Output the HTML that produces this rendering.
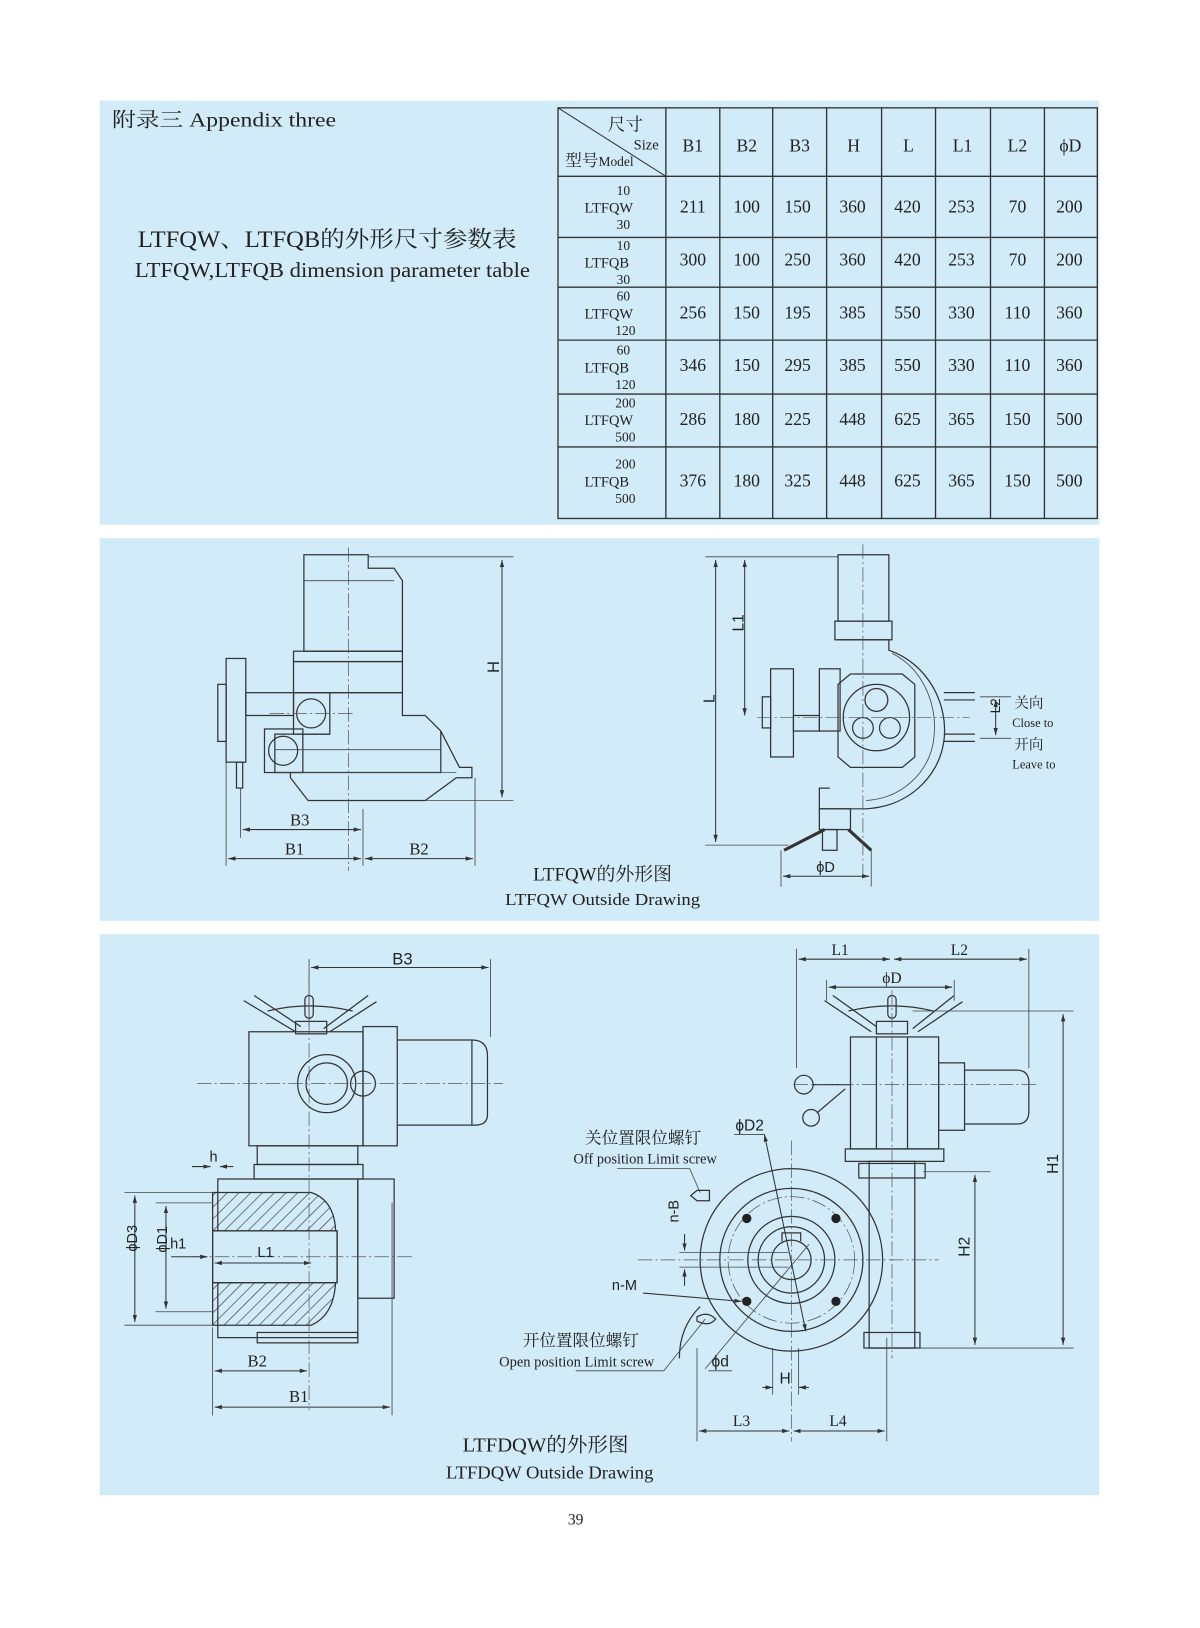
<!DOCTYPE html>
<html><head><meta charset="utf-8"><style>
html,body{margin:0;padding:0;background:#fff;}
svg{display:block;}
text{font-family:"Liberation Serif","Noto Serif CJK SC",serif;fill:#222;}
.s{font-family:"Liberation Sans","Noto Sans CJK SC",sans-serif;}
.l{fill:none;stroke:#333;stroke-width:1.2;}
.t{fill:none;stroke:#444;stroke-width:0.8;}
.c{fill:none;stroke:#555;stroke-width:0.7;stroke-dasharray:14 3 2 3;}
.g{stroke:#333;stroke-width:1;}
</style></head><body>
<svg width="1200" height="1628" viewBox="0 0 1157 1570" preserveAspectRatio="none" xmlns="http://www.w3.org/2000/svg">
<defs>
<marker id="a" viewBox="0 0 10 10" refX="10" refY="5" markerWidth="7" markerHeight="7" orient="auto-start-reverse"><path d="M0,2 L10,5 L0,8 z" fill="#333"/></marker>
<pattern id="h" width="8" height="8" patternUnits="userSpaceOnUse" patternTransform="rotate(45)"><line x1="0" y1="0" x2="0" y2="8" stroke="#333" stroke-width="1.2"/></pattern>
</defs>
<rect width="1157" height="1570" fill="#fff"/>
<rect x="96" y="97" width="964" height="409" fill="#d2ebf8"/>
<rect x="96" y="519" width="964" height="369" fill="#d2ebf8"/>
<rect x="96" y="901" width="964" height="541" fill="#d2ebf8"/>

<text x="108" y="122" font-size="19" textLength="216" lengthAdjust="spacingAndGlyphs">附录三  Appendix three</text>
<text x="133" y="238" font-size="22" textLength="365" lengthAdjust="spacingAndGlyphs">LTFQW、LTFQB的外形尺寸参数表</text>
<text x="130" y="267" font-size="20" textLength="381" lengthAdjust="spacingAndGlyphs">LTFQW,LTFQB dimension parameter table</text>

<g stroke="#333" stroke-width="1.3" fill="none">
<rect x="538" y="104" width="520" height="396"/>
<line x1="642" y1="104" x2="642" y2="500"/><line x1="694" y1="104" x2="694" y2="500"/>
<line x1="745" y1="104" x2="745" y2="500"/><line x1="797" y1="104" x2="797" y2="500"/>
<line x1="850" y1="104" x2="850" y2="500"/><line x1="902" y1="104" x2="902" y2="500"/>
<line x1="955" y1="104" x2="955" y2="500"/><line x1="1007" y1="104" x2="1007" y2="500"/>
<line x1="538" y1="170" x2="1058" y2="170"/><line x1="538" y1="229" x2="1058" y2="229"/>
<line x1="538" y1="277" x2="1058" y2="277"/><line x1="538" y1="328" x2="1058" y2="328"/>
<line x1="538" y1="380" x2="1058" y2="380"/><line x1="538" y1="431" x2="1058" y2="431"/>
<line x1="538" y1="104" x2="642" y2="170" stroke-width="1"/>
</g>
<g font-size="17" text-anchor="middle">
<text x="603" y="126">尺寸</text><text x="623" y="144" font-size="14">Size</text>
<text x="578" y="160" font-size="16">型号<tspan font-size="13">Model</tspan></text>
<text x="668" y="146">B1</text><text x="720" y="146">B2</text><text x="771" y="146">B3</text><text x="823" y="146">H</text><text x="876" y="146">L</text><text x="928" y="146">L1</text><text x="981" y="146">L2</text><text x="1032" y="146">ϕD</text>
</g>
<g font-size="13" text-anchor="middle">
<text x="601" y="188">10</text><text x="587" y="205" font-size="14">LTFQW</text><text x="601" y="221">30</text>
<text x="601" y="241">10</text><text x="585" y="258" font-size="14">LTFQB</text><text x="601" y="274">30</text>
<text x="601" y="290">60</text><text x="587" y="307" font-size="14">LTFQW</text><text x="603" y="323">120</text>
<text x="601" y="342">60</text><text x="585" y="359" font-size="14">LTFQB</text><text x="603" y="375">120</text>
<text x="603" y="393">200</text><text x="587" y="410" font-size="14">LTFQW</text><text x="603" y="426">500</text>
<text x="603" y="452">200</text><text x="585" y="469" font-size="14">LTFQB</text><text x="603" y="485">500</text>
</g>
<g font-size="17" text-anchor="middle">
<g transform="translate(0,205)"><text x="668">211</text><text x="720">100</text><text x="769">150</text><text x="822">360</text><text x="875">420</text><text x="927">253</text><text x="981">70</text><text x="1031">200</text></g>
<g transform="translate(0,256)"><text x="668">300</text><text x="720">100</text><text x="769">250</text><text x="822">360</text><text x="875">420</text><text x="927">253</text><text x="981">70</text><text x="1031">200</text></g>
<g transform="translate(0,307)"><text x="668">256</text><text x="720">150</text><text x="769">195</text><text x="822">385</text><text x="875">550</text><text x="927">330</text><text x="981">110</text><text x="1031">360</text></g>
<g transform="translate(0,358)"><text x="668">346</text><text x="720">150</text><text x="769">295</text><text x="822">385</text><text x="875">550</text><text x="927">330</text><text x="981">110</text><text x="1031">360</text></g>
<g transform="translate(0,410)"><text x="668">286</text><text x="720">180</text><text x="769">225</text><text x="822">448</text><text x="875">625</text><text x="927">365</text><text x="981">150</text><text x="1031">500</text></g>
<g transform="translate(0,469)"><text x="668">376</text><text x="720">180</text><text x="769">325</text><text x="822">448</text><text x="875">625</text><text x="927">365</text><text x="981">150</text><text x="1031">500</text></g>
</g>

<!-- Panel 2 left -->
<g class="l">
<path d="M293,535 H355 V548 L380,548 L388,560 V628 H293 Z"/>
<line x1="293" y1="560" x2="380" y2="560" class="t"/>
<rect x="283" y="628" width="105" height="10"/>
<rect x="283" y="638" width="105" height="30"/>
<rect x="218" y="635" width="19" height="100"/>
<rect x="210" y="660" width="8" height="55"/>
<rect x="237" y="668" width="46" height="22"/>
<rect x="283" y="668" width="35" height="40"/>
<circle cx="300" cy="688" r="14"/>
<path d="M318,668 H388 V690 L410,690 L425,705 V745 H265 V708 H318"/>
<rect x="255" y="703" width="37" height="42"/>
<circle cx="273" cy="724" r="14"/>
<line x1="265" y1="723" x2="425" y2="723" class="t"/>
<path d="M425,705 L443,740 L455,740 V750 L440,750 L410,772 H297 L280,750 V745"/>
<rect x="228" y="735" width="6" height="25"/>
<line x1="265" y1="745" x2="440" y2="745" class="t"/>
</g>
<line x1="336" y1="528" x2="336" y2="840" class="c"/>
<line x1="260" y1="688" x2="340" y2="688" class="c"/>
<line x1="355" y1="537" x2="495" y2="537" class="t"/>
<line x1="410" y1="772" x2="495" y2="772" class="t"/>
<line x1="484" y1="540" x2="484" y2="769" class="g" marker-start="url(#a)" marker-end="url(#a)"/>
<text x="480" y="656" class="s" font-size="16" transform="rotate(-90 477 652)">H</text>
<line x1="218" y1="735" x2="218" y2="835" class="t"/>
<line x1="232" y1="760" x2="232" y2="808" class="t"/>
<line x1="350" y1="780" x2="350" y2="835" class="t"/>
<line x1="458" y1="750" x2="458" y2="835" class="t"/>
<line x1="234" y1="800" x2="348" y2="800" class="g" marker-start="url(#a)" marker-end="url(#a)"/>
<line x1="220" y1="828" x2="348" y2="828" class="g" marker-start="url(#a)" marker-end="url(#a)"/>
<line x1="352" y1="828" x2="456" y2="828" class="g" marker-start="url(#a)" marker-end="url(#a)"/>
<g class="s" font-size="16" text-anchor="middle"><text x="289" y="796">B3</text><text x="284" y="824">B1</text><text x="404" y="824">B2</text></g>
<text x="514" y="849" font-size="18" textLength="134" lengthAdjust="spacingAndGlyphs">LTFQW的外形图</text>
<text x="487" y="873" font-size="16" textLength="188" lengthAdjust="spacingAndGlyphs">LTFQW Outside Drawing</text>

<!-- Panel 2 right -->
<g class="l">
<rect x="808" y="535" width="49" height="64"/>
<rect x="805" y="599" width="55" height="18"/>
<path d="M808,617 H857 V627 C895,640 915,680 910,715 C905,750 875,778 835,780 H790 V760 H800"/>
<path d="M860,630 C890,645 905,680 900,715 C895,745 870,770 835,772" class="t"/>
<rect x="790" y="645" width="20" height="60"/>
<path d="M808,660 L820,650 H870 L882,660 V730 L870,740 H820 L808,730 Z"/>
<circle cx="845" cy="692" r="32"/>
<circle cx="845" cy="675" r="11"/>
<circle cx="832" cy="702" r="10"/>
<circle cx="858" cy="702" r="10"/>
<rect x="743" y="645" width="22" height="85"/>
<rect x="735" y="672" width="8" height="30"/>
<rect x="765" y="690" width="25" height="15"/>
<line x1="910" y1="668" x2="940" y2="668"/><line x1="910" y1="675" x2="940" y2="675"/>
<line x1="910" y1="708" x2="940" y2="708"/><line x1="910" y1="715" x2="940" y2="715"/>
<rect x="790" y="780" width="30" height="20"/>
<rect x="793" y="800" width="14" height="20"/>
<line x1="795" y1="800" x2="756" y2="820" stroke-width="3"/>
<line x1="818" y1="800" x2="840" y2="820" stroke-width="3"/>
</g>
<line x1="832" y1="525" x2="832" y2="845" class="c"/>
<line x1="730" y1="692" x2="935" y2="692" class="c"/>
<line x1="680" y1="537" x2="808" y2="537" class="t"/>
<line x1="680" y1="815" x2="760" y2="815" class="t"/>
<line x1="690" y1="540" x2="690" y2="812" class="g" marker-start="url(#a)" marker-end="url(#a)"/>
<line x1="718" y1="540" x2="718" y2="690" class="g" marker-start="url(#a)" marker-end="url(#a)"/>
<text x="684" y="683" class="s" font-size="15" transform="rotate(-90 684 678)">L</text>
<text x="716" y="616" class="s" font-size="15" transform="rotate(-90 713 612)">L1</text>
<line x1="945" y1="672" x2="975" y2="672" class="t"/><line x1="945" y1="712" x2="975" y2="712" class="t"/>
<line x1="960" y1="675" x2="960" y2="709" class="g" marker-start="url(#a)" marker-end="url(#a)"/>
<text x="962" y="698" class="s" font-size="13" transform="rotate(-90 958 692)">L2</text>
<g font-size="14"><text x="978" y="683">关向</text><text x="976" y="701" font-size="12">Close to</text><text x="978" y="723">开向</text><text x="976" y="741" font-size="12">Leave to</text></g>
<line x1="753" y1="820" x2="753" y2="855" class="t"/><line x1="840" y1="820" x2="840" y2="855" class="t"/>
<line x1="755" y1="845" x2="838" y2="845" class="g" marker-start="url(#a)" marker-end="url(#a)"/>
<text x="796" y="841" class="s" font-size="14" text-anchor="middle">ϕD</text>

<!-- Panel 3 left -->
<line x1="298" y1="925" x2="298" y2="990" class="t"/><line x1="473" y1="925" x2="473" y2="1000" class="t"/>
<line x1="300" y1="933" x2="471" y2="933" class="g" marker-start="url(#a)" marker-end="url(#a)"/>
<text x="388" y="930" class="s" font-size="16" text-anchor="middle">B3</text>
<g class="l">
<path d="M235,965 L285,995 M245,960 L290,990 M355,960 L312,992 M363,966 L318,995"/>
<path d="M258,975 Q298,965 340,975"/>
<rect x="294" y="960" width="8" height="22" rx="4"/>
<rect x="285" y="985" width="30" height="12"/>
<rect x="240" y="995" width="110" height="110"/>
<circle cx="315" cy="1045" r="28"/><circle cx="315" cy="1045" r="20"/>
<circle cx="350" cy="1045" r="12"/>
<rect x="350" y="990" width="33" height="115"/>
<path d="M383,1003 H455 Q470,1003 470,1018 V1075 Q470,1085 458,1085 H383"/>
<line x1="455" y1="1003" x2="455" y2="1085"/>
<rect x="248" y="1105" width="97" height="18"/>
<rect x="245" y="1123" width="105" height="14"/>
<path d="M210,1137 H345 V1290 H210 Z"/>
<rect x="345" y="1137" width="35" height="115"/>
<path d="M205,1150 H300 Q330,1160 322,1210 Q330,1265 300,1278 H205 Z" fill="url(#h)"/>
<rect x="205" y="1187" width="120" height="50" fill="#d2ebf8"/>
<rect x="205" y="1187" width="120" height="50"/>
<rect x="248" y="1285" width="97" height="10"/>
</g>
<line x1="190" y1="1045" x2="485" y2="1045" class="c"/>
<line x1="185" y1="1212" x2="400" y2="1212" class="c"/>
<line x1="298" y1="940" x2="298" y2="1360" class="c"/>
<line x1="120" y1="1150" x2="205" y2="1150" class="t"/><line x1="120" y1="1278" x2="205" y2="1278" class="t"/>
<line x1="150" y1="1160" x2="205" y2="1160" class="t"/><line x1="150" y1="1265" x2="205" y2="1265" class="t"/>
<line x1="130" y1="1153" x2="130" y2="1275" class="g" marker-start="url(#a)" marker-end="url(#a)"/>
<line x1="160" y1="1163" x2="160" y2="1262" class="g" marker-start="url(#a)" marker-end="url(#a)"/>
<text x="127" y="1222" class="s" font-size="14" transform="rotate(-90 122 1212)">ϕD3</text>
<text x="155" y="1222" class="s" font-size="14" transform="rotate(-90 151 1212)">ϕD1</text>
<text x="164" y="1204" class="s" font-size="14">h1</text>
<line x1="165" y1="1212" x2="200" y2="1212" class="g" marker-end="url(#a)"/>
<line x1="207" y1="1218" x2="300" y2="1218" class="g" marker-start="url(#a)" marker-end="url(#a)"/>
<text x="256" y="1212" class="s" font-size="14" text-anchor="middle">L1</text>
<text x="202" y="1120" class="s" font-size="14">h</text>
<line x1="185" y1="1125" x2="203" y2="1125" class="g" marker-end="url(#a)"/>
<line x1="225" y1="1125" x2="212" y2="1125" class="g" marker-end="url(#a)"/>
<line x1="205" y1="1280" x2="205" y2="1365" class="t"/><line x1="378" y1="1160" x2="378" y2="1365" class="t"/>
<line x1="207" y1="1322" x2="296" y2="1322" class="g" marker-start="url(#a)" marker-end="url(#a)"/>
<line x1="207" y1="1357" x2="376" y2="1357" class="g" marker-start="url(#a)" marker-end="url(#a)"/>
<g class="s" font-size="16" text-anchor="middle"><text x="248" y="1318">B2</text><text x="288" y="1352">B1</text></g>

<!-- Panel 3 right -->
<g class="l">
<path d="M795,965 L840,995 M803,960 L845,990 M920,960 L880,992 M928,966 L885,995"/>
<path d="M818,975 Q860,965 900,975"/>
<rect x="856" y="960" width="8" height="22" rx="4"/>
<rect x="845" y="985" width="30" height="12"/>
<rect x="820" y="1000" width="85" height="108"/>
<line x1="845" y1="1000" x2="845" y2="1108"/><line x1="875" y1="1000" x2="875" y2="1108"/>
<rect x="905" y="1025" width="25" height="65"/>
<path d="M930,1032 H980 Q992,1032 992,1044 V1072 Q992,1084 980,1084 H930"/>
<circle cx="775" cy="1046" r="9"/><line x1="784" y1="1046" x2="820" y2="1046"/>
<circle cx="782" cy="1078" r="8"/><line x1="788" y1="1073" x2="815" y2="1050"/>
<rect x="815" y="1108" width="95" height="12"/>
<rect x="838" y="1120" width="44" height="180"/>
<rect x="828" y="1122" width="64" height="14"/>
<rect x="833" y="1285" width="54" height="15"/>
</g>
<line x1="860" y1="955" x2="860" y2="1310" class="c"/>
<line x1="765" y1="1046" x2="1000" y2="1046" class="c"/>
<line x1="768" y1="915" x2="768" y2="1030" class="t"/><line x1="992" y1="915" x2="992" y2="1030" class="t"/>
<line x1="770" y1="925" x2="858" y2="925" class="g" marker-start="url(#a)" marker-end="url(#a)"/>
<line x1="862" y1="925" x2="990" y2="925" class="g" marker-start="url(#a)" marker-end="url(#a)"/>
<line x1="797" y1="945" x2="797" y2="965" class="t"/><line x1="920" y1="945" x2="920" y2="965" class="t"/>
<line x1="799" y1="952" x2="918" y2="952" class="g" marker-start="url(#a)" marker-end="url(#a)"/>
<g class="s" font-size="15" text-anchor="middle"><text x="810" y="921">L1</text><text x="925" y="921">L2</text><text x="860" y="948">ϕD</text></g>
<line x1="880" y1="975" x2="1035" y2="975" class="t"/>
<line x1="890" y1="1130" x2="955" y2="1130" class="t"/>
<line x1="887" y1="1300" x2="1035" y2="1300" class="t"/>
<line x1="1025" y1="978" x2="1025" y2="1297" class="g" marker-start="url(#a)" marker-end="url(#a)"/>
<line x1="940" y1="1133" x2="940" y2="1297" class="g" marker-start="url(#a)" marker-end="url(#a)"/>
<text x="1020" y="1142" class="s" font-size="15" transform="rotate(-90 1015 1137)">H1</text>
<text x="935" y="1222" class="s" font-size="15" transform="rotate(-90 930 1217)">H2</text>

<g class="l">
<circle cx="763" cy="1215" r="88"/>
<circle cx="763" cy="1215" r="69"/>
<circle cx="763" cy="1215" r="42"/>
<circle cx="763" cy="1215" r="32"/>
<path d="M754,1197 V1189 H772 V1197" />
<circle cx="763" cy="1215" r="19"/>
</g>
<circle cx="763" cy="1215" r="61" class="c"/>
<g fill="#222"><circle cx="720" cy="1175" r="4.5"/><circle cx="806" cy="1175" r="4.5"/><circle cx="720" cy="1255" r="4.5"/><circle cx="806" cy="1255" r="4.5"/></g>
<line x1="615" y1="1215" x2="905" y2="1215" class="c"/>
<line x1="763" y1="1100" x2="763" y2="1390" class="c"/>
<line x1="655" y1="1208" x2="760" y2="1208" class="t"/><line x1="655" y1="1222" x2="760" y2="1222" class="t"/>
<line x1="660" y1="1190" x2="660" y2="1206" class="g" marker-end="url(#a)"/>
<line x1="660" y1="1240" x2="660" y2="1224" class="g" marker-end="url(#a)"/>
<text x="655" y="1188" class="s" font-size="14" transform="rotate(-90 650 1184)">n-B</text>
<text x="590" y="1244" class="s" font-size="14">n-M</text>
<line x1="620" y1="1247" x2="715" y2="1255" class="g" marker-end="url(#a)"/>
<text x="709" y="1090" class="s" font-size="15">ϕD2</text>
<line x1="708" y1="1094" x2="737" y2="1094" class="t"/>
<line x1="737" y1="1094" x2="777" y2="1284" class="g" marker-start="url(#a)" marker-end="url(#a)"/>
<line x1="680" y1="1320" x2="780" y2="1200" class="t"/>
<text x="686" y="1318" class="s" font-size="15">ϕd</text>
<line x1="683" y1="1322" x2="706" y2="1322" class="t"/>
<path d="M675,1260 Q655,1280 655,1310" class="l"/>
<path d="M672,1148 l12,0 l0,10 l-12,0 l-6,-5 z" class="l"/>
<path d="M672,1270 q10,-6 18,2 q-6,8 -18,2 z" class="l"/>
<line x1="595" y1="1127" x2="665" y2="1127" class="t"/><line x1="665" y1="1127" x2="675" y2="1150" class="t"/>
<line x1="555" y1="1322" x2="640" y2="1322" class="t"/><line x1="640" y1="1322" x2="680" y2="1272" class="t"/>
<text x="620" y="1103" font-size="16" text-anchor="middle">关位置限位螺钉</text>
<text x="622" y="1122" font-size="14" text-anchor="middle">Off position Limit screw</text>
<text x="560" y="1298" font-size="16" text-anchor="middle">开位置限位螺钉</text>
<text x="556" y="1318" font-size="14" text-anchor="middle">Open position Limit screw</text>
<line x1="745" y1="1300" x2="745" y2="1345" class="t"/><line x1="770" y1="1300" x2="770" y2="1345" class="t"/>
<line x1="735" y1="1338" x2="745" y2="1338" class="g" marker-end="url(#a)"/>
<line x1="780" y1="1338" x2="770" y2="1338" class="g" marker-end="url(#a)"/>
<text x="757" y="1334" class="s" font-size="15" text-anchor="middle">H</text>
<line x1="672" y1="1300" x2="672" y2="1390" class="t"/><line x1="855" y1="1290" x2="855" y2="1390" class="t"/>
<line x1="674" y1="1380" x2="761" y2="1380" class="g" marker-start="url(#a)" marker-end="url(#a)"/>
<line x1="765" y1="1380" x2="853" y2="1380" class="g" marker-start="url(#a)" marker-end="url(#a)"/>
<g class="s" font-size="15" text-anchor="middle"><text x="715" y="1375">L3</text><text x="808" y="1375">L4</text></g>
<text x="446" y="1400" font-size="19" textLength="160" lengthAdjust="spacingAndGlyphs">LTFDQW的外形图</text>
<text x="430" y="1426" font-size="17" textLength="200" lengthAdjust="spacingAndGlyphs">LTFDQW Outside Drawing</text>

<text x="555" y="1470" font-size="15" text-anchor="middle">39</text>
</svg>
</body></html>
